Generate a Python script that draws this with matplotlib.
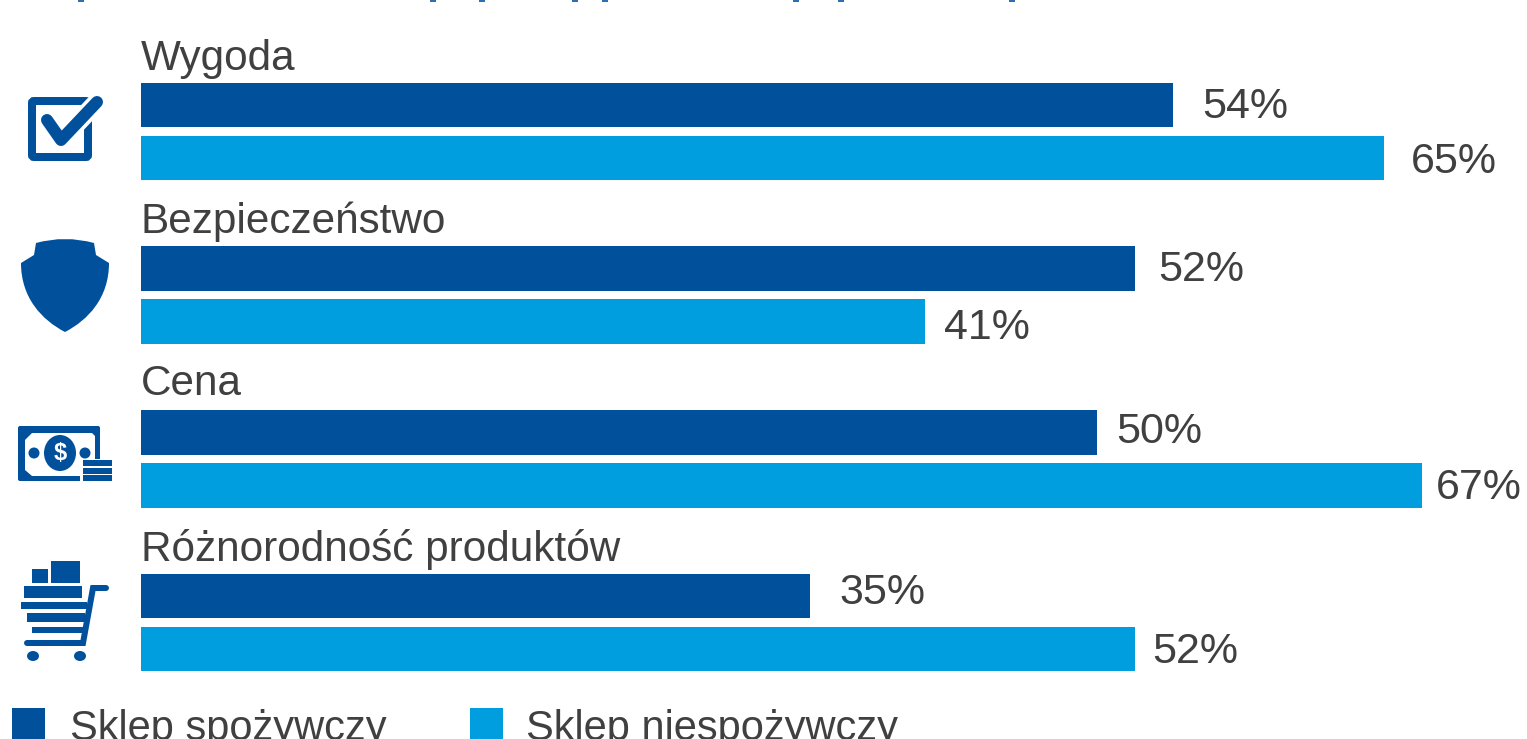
import matplotlib
matplotlib.use("Agg")
import matplotlib.pyplot as plt
from matplotlib.patches import Ellipse, FancyBboxPatch, PathPatch, Rectangle
from matplotlib.path import Path

categories = ["Wygoda", "Bezpieczeństwo", "Cena", "Różnorodność produktów"]
grocery = [54, 52, 50, 35]
non_grocery = [65, 41, 67, 52]
legend_labels = ["Sklep spożywczy", "Sklep niespożywczy"]

# small shifts of the value labels, in pixels (x, y up)
grocery_shift = [(29, -2), (23, -1), (19, 0), (29, 3)]
non_grocery_shift = [(27, -4), (19, -6), (14, -3), (17, -3)]
# category label baselines, pixels above the default spot
name_shift = [2, 3, 5, 3]

DARK = "#00509b"
LIGHT = "#009ddf"
TEXT = "#404040"
W, H = 1527, 739
PX = 72 / 100  # one pixel in points
FS = 30.4


def draw_check(ov):
    ov.add_patch(FancyBboxPatch((32, 101), 56, 56, boxstyle="round,pad=0,rounding_size=2",
                                fc="white", ec=DARK, lw=8 * PX))
    ov.plot([63, 99], [138, 100], color="white", lw=19 * PX, solid_capstyle="butt")
    ov.plot([47, 61, 97], [120, 140, 102], color=DARK, lw=12 * PX,
            solid_capstyle="round", solid_joinstyle="round")


def draw_shield(ov):
    verts = [(36, 243), (65, 235), (94, 243), (96, 255), (109, 263),
             (109, 298), (88, 320), (65, 332), (42, 320), (21, 298), (21, 263),
             (34, 255), (36, 243)]
    codes = [Path.MOVETO, Path.CURVE3, Path.CURVE3, Path.LINETO, Path.LINETO]
    codes += [Path.CURVE4] * 6 + [Path.LINETO, Path.LINETO]
    ov.add_patch(PathPatch(Path(verts, codes), fc=DARK, ec="none"))


def draw_money(ov):
    ov.add_patch(FancyBboxPatch((18, 426), 82, 55, boxstyle="round,pad=0,rounding_size=2",
                                fc=DARK, ec="none"))
    inner = [(32, 433), (92, 433), (95, 436), (95, 473), (92, 476), (32, 476), (25, 470), (25, 440)]
    ov.fill(*zip(*inner), color="white", lw=0)
    ov.add_patch(Ellipse((60, 453), 32, 36, fc=DARK, ec="none"))
    ov.add_patch(Ellipse((34, 453), 11, 11, fc=DARK, ec="none"))
    ov.add_patch(Ellipse((85, 453), 11, 11, fc=DARK, ec="none"))
    ov.text(60, 454, "$", color="white", fontsize=17, fontweight="bold",
            ha="center", va="center", family="Liberation Sans")
    ov.add_patch(Rectangle((80, 459), 33, 23, fc="white", ec="none"))
    for top in (460, 468, 475):
        ov.add_patch(Rectangle((83, top), 29, 6, fc=DARK, ec="none"))


def draw_cart(ov):
    ov.add_patch(Rectangle((32, 569), 16, 14, fc=DARK, ec="none"))
    ov.add_patch(Rectangle((51, 561), 29, 22, fc=DARK, ec="none"))
    rows = [(24, 82, 586, 598), (21, 87, 602, 609), (27, 85, 613, 622), (32, 83, 627, 633)]
    for x0, x1, y0, y1 in rows:
        ov.add_patch(Rectangle((x0, y0), x1 - x0, y1 - y0, fc=DARK, ec="none"))
    ov.plot([106, 93, 83, 27], [588, 588, 643, 643], color=DARK, lw=6 * PX,
            solid_capstyle="round", solid_joinstyle="miter")
    ov.add_patch(Ellipse((33, 656), 12, 10, fc=DARK, ec="none"))
    ov.add_patch(Ellipse((80, 656), 12, 10, fc=DARK, ec="none"))


plt.rcParams["font.family"] = ["Liberation Sans", "DejaVu Sans"]

fig = plt.figure(figsize=(W / 100, H / 100), dpi=100, facecolor="white")

# bars live in an axes starting at the bars' zero line, one y unit is one group
ax = fig.add_axes([141 / W, 0, 1 - 141 / W, 1])
ax.set_xlim(0, (W - 141) / 19.12)
ax.set_ylim((H - 131.5) / 163.7, -131.5 / 163.7)
ax.axis("off")

for i, name in enumerate(categories):
    ax.barh(i - 0.162, grocery[i], height=0.272, color=DARK)
    ax.barh(i + 0.162, non_grocery[i], height=0.272, color=LIGHT)
    ax.annotate(name, (0, i - 0.361), xytext=(0, name_shift[i] * PX),
                textcoords="offset points", fontsize=FS, color=TEXT, va="baseline", ha="left")
    ax.annotate(f"{grocery[i]}%", (grocery[i], i - 0.162),
                xytext=(grocery_shift[i][0] * PX, grocery_shift[i][1] * PX),
                textcoords="offset points", fontsize=FS + 0.6, color=TEXT, va="center")
    ax.annotate(f"{non_grocery[i]}%", (non_grocery[i], i + 0.162),
                xytext=(non_grocery_shift[i][0] * PX, non_grocery_shift[i][1] * PX),
                textcoords="offset points", fontsize=FS + 0.6, color=TEXT, va="center")

# overlay in pixel units for the icons, legend and the cut-off heading above
ov = fig.add_axes([0, 0, 1, 1])
ov.set_xlim(0, W)
ov.set_ylim(H, 0)
ov.axis("off")
ov.patch.set_alpha(0)

draw_check(ov)
draw_shield(ov)
draw_money(ov)
draw_cart(ov)

for x, col, label, tx in [(12, DARK, legend_labels[0], 70), (470, LIGHT, legend_labels[1], 526)]:
    ov.add_patch(Rectangle((x, 708), 33, 33, fc=col, ec="none"))
    ov.text(tx, 740, label, fontsize=30, color=TEXT, va="baseline", ha="left", clip_on=True)

# descenders of the heading line that runs off the top edge
for x in [81, 433, 482, 575, 605, 796, 841, 1012]:
    ov.add_patch(Rectangle((x - 3, 0), 6, 2, fc="#2f6db5", ec="none"))

fig.savefig("out.png", dpi=100)
